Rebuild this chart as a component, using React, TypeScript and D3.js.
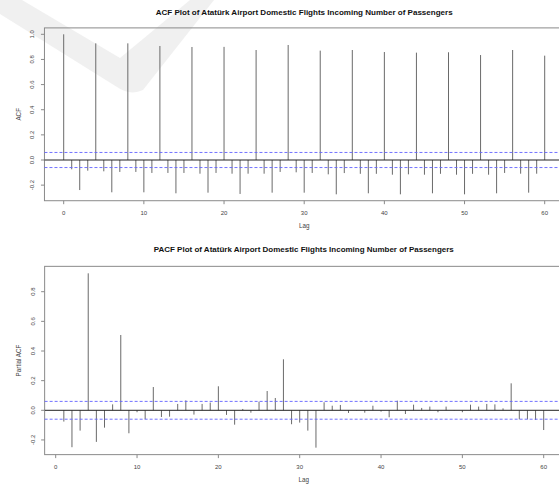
import React from 'react'
import * as d3 from 'd3'

// ACF values for lags 0..60
const acfLags = d3.range(0, 61)
const acfValues = [
  1.0, -0.074, -0.239, -0.085, 0.928, -0.09, -0.257, -0.095, 0.928, -0.095,
  -0.257, -0.103, 0.907, -0.103, -0.265, -0.103, 0.899, -0.109, -0.26, -0.103,
  0.9, -0.109, -0.27, -0.109, 0.875, -0.109, -0.26, -0.095, 0.915, -0.098,
  -0.26, -0.103, 0.87, -0.114, -0.273, -0.104, 0.875, -0.11, -0.265, -0.11,
  0.859, -0.117, -0.273, -0.114, 0.854, -0.117, -0.265, -0.11, 0.857, -0.117,
  -0.273, -0.11, 0.835, -0.117, -0.265, -0.103, 0.875, -0.109, -0.26, -0.109,
  0.83,
]

// PACF values for lags 1..60
const pacfLags = d3.range(1, 61)
const pacfValues = [
  -0.076, -0.249, -0.137, 0.924, -0.213, -0.117, 0.04, 0.508, -0.155, -0.013,
  -0.06, 0.157, -0.045, -0.043, 0.043, 0.067, -0.029, 0.043, 0.052, 0.162,
  -0.031, -0.097, 0.009, -0.016, 0.058, 0.13, 0.083, 0.344, -0.094, -0.083,
  -0.137, -0.252, 0.054, 0.031, 0.036, -0.018, 0.002, -0.016, 0.031, -0.009,
  -0.047, 0.065, -0.025, 0.038, 0.016, 0.025, -0.013, 0.025, 0.002, -0.013,
  0.038, 0.025, 0.043, 0.04, 0.013, 0.182, -0.061, -0.061, -0.065, -0.133,
]

const confLimit = 0.06
const xTicks = [0, 10, 20, 30, 40, 50, 60]
const acfYTicks = [-0.2, 0, 0.2, 0.4, 0.6, 0.8, 1.0]
const pacfYTicks = [-0.2, 0, 0.2, 0.4, 0.6, 0.8]

const acfTitle = 'ACF Plot of Atatürk Airport Domestic Flights Incoming Number of Passengers'
const pacfTitle = 'PACF Plot of Atatürk Airport Domestic Flights Incoming Number of Passengers'

const W = 559
const H = 484
const FONT = "'Liberation Sans', Arial, sans-serif"

interface PanelProps {
  lags: number[]
  values: number[]
  yTicks: number[]
  title: string
  yLabel: string
  xScale: d3.ScaleLinear<number, number>
  yScale: d3.ScaleLinear<number, number>
  titleY: number
  titleLen: number
  lagY: number
}

// R-style limits: data range extended by 4%
const pad = (lo: number, hi: number) => {
  const e = (hi - lo) * 0.04
  return [lo - e, hi + e]
}

const Panel = ({ lags, values, yTicks, title, yLabel, xScale, yScale, titleY, titleLen, lagY }: PanelProps) => {
  const [xl, xh] = pad(d3.min(lags)!, d3.max(lags)!)
  const [yl, yh] = pad(Math.min(d3.min(values)!, -confLimit), Math.max(d3.max(values)!, confLimit))
  const left = xScale(xl)
  const right = xScale(xh)
  const top = yScale(yh)
  const bottom = yScale(yl)
  const midX = (left + right) / 2
  const midY = (top + bottom) / 2
  const axisColor = '#8a8a8a'
  return (
    <g fontFamily={FONT}>
      <text x={midX} y={titleY} textAnchor="middle" fontSize={7.2} fontWeight="bold" fill="#111"
        textLength={titleLen} lengthAdjust="spacingAndGlyphs">{title}</text>
      {/* box */}
      <rect x={left} y={top} width={right - left} height={bottom - top} fill="none" stroke={axisColor} strokeWidth={1} />
      {/* spikes */}
      {lags.map((l, i) => (
        <line key={l} x1={xScale(l)} x2={xScale(l)} y1={yScale(0)} y2={yScale(values[i])}
          stroke="#6a6a6a" strokeWidth={1} />
      ))}
      {/* confidence limits */}
      {[confLimit, -confLimit].map(c => (
        <line key={c} x1={left} x2={right} y1={yScale(c)} y2={yScale(c)}
          stroke="#6262ff" strokeWidth={0.9} strokeDasharray="3,2" />
      ))}
      {/* zero line */}
      <line x1={left} x2={right} y1={yScale(0)} y2={yScale(0)} stroke="#222" strokeWidth={1} />
      {/* x axis */}
      {xTicks.map(t => (
        <g key={t}>
          <line x1={xScale(t)} x2={xScale(t)} y1={bottom} y2={bottom + 3.5} stroke={axisColor} />
          <text x={xScale(t)} y={bottom + 14} textAnchor="middle" fontSize={6} fill="#444">{t}</text>
        </g>
      ))}
      {/* y axis */}
      {yTicks.map(t => (
        <g key={t}>
          <line x1={left} x2={left - 3.5} y1={yScale(t)} y2={yScale(t)} stroke={axisColor} />
          <text transform={`translate(${left - 10},${yScale(t)}) rotate(-90)`} textAnchor="middle" fontSize={6} fill="#444">
            {t.toFixed(1)}
          </text>
        </g>
      ))}
      <text x={midX} y={lagY} textAnchor="middle" fontSize={6.3} fill="#444">Lag</text>
      <text transform={`translate(21,${midY}) rotate(-90)`} textAnchor="middle" fontSize={6.3} fill="#444">{yLabel}</text>
    </g>
  )
}

export default function App() {
  const acfX = d3.scaleLinear().domain([0, 60]).range([63.7, 544.7])
  const acfY = d3.scaleLinear().domain([0, 1]).range([160, 34.3])
  const pacfX = d3.scaleLinear().domain([0, 60]).range([55.7, 543.7])
  const pacfY = d3.scaleLinear().domain([0, 0.8]).range([410.3, 291.7])

  return (
    <svg width={W} height={H} viewBox={`0 0 ${W} ${H}`}
      style={{ position: 'fixed', left: 0, top: 0, background: '#fff' }}>
      <rect width={W} height={H} fill="#fff" />
      {/* faint watermark swoosh */}
      <path d="M0,0 L22,0 L120,58 L190,0 L214,0 L143,90 Q130,96 117,87 L0,14 Z" fill="#e2e2e2" opacity={0.5} />
      <Panel lags={acfLags} values={acfValues} yTicks={acfYTicks} title={acfTitle} yLabel="ACF"
        xScale={acfX} yScale={acfY} titleY={15} titleLen={297} lagY={228} />
      <Panel lags={pacfLags} values={pacfValues} yTicks={pacfYTicks} title={pacfTitle} yLabel="Partial ACF"
        xScale={pacfX} yScale={pacfY} titleY={252} titleLen={300} lagY={481.5} />
    </svg>
  )
}
